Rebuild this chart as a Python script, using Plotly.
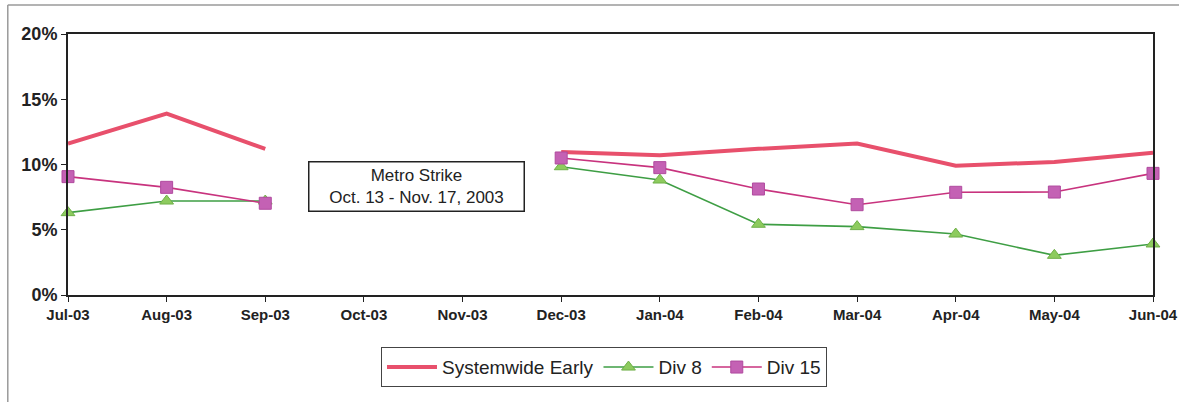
import plotly.graph_objects as go

months = ["Jul-03", "Aug-03", "Sep-03", "Oct-03", "Nov-03", "Dec-03",
          "Jan-04", "Feb-04", "Mar-04", "Apr-04", "May-04", "Jun-04"]
systemwide_early = [11.6, 13.9, 11.2, None, None, 10.96, 10.7, 11.2, 11.6, 9.9, 10.2, 10.9]
div_8 = [6.31, 7.2, 7.2, None, None, 9.83, 8.81, 5.42, 5.24, 4.67, 3.04, 3.91]
div_15 = [9.07, 8.25, 7.03, None, None, 10.5, 9.76, 8.12, 6.92, 7.87, 7.89, 9.32]
y_ticks = [0, 5, 10, 15, 20]
y_tick_text = ["0%", "5%", "10%", "15%", "20%"]
note_lines = ["Metro Strike", "Oct. 13 - Nov. 17, 2003"]

x = list(range(len(months)))
FONT = "Liberation Sans, Arial"

fig = go.Figure()
fig.add_trace(go.Scatter(
    x=x, y=systemwide_early, name="Systemwide Early", mode="lines",
    line=dict(color="#E8506C", width=4), connectgaps=False, cliponaxis=False))
fig.add_trace(go.Scatter(
    x=x, y=div_8, name="Div 8", mode="lines+markers",
    line=dict(color="#3E9E44", width=1.6),
    marker=dict(symbol="triangle-up", size=12, color="#8DCB5E",
                line=dict(color="#6FB048", width=1)),
    connectgaps=False, cliponaxis=False))
fig.add_trace(go.Scatter(
    x=x, y=div_15, name="Div 15", mode="lines+markers",
    line=dict(color="#C8337E", width=1.6),
    marker=dict(symbol="square", size=12, color="#C461B4",
                line=dict(color="#B04A9E", width=1)),
    connectgaps=False, cliponaxis=False))

fig.add_annotation(
    x=3.53, y=8.3, xref="x", yref="y",
    text="<br>".join(note_lines), showarrow=False,
    font=dict(family=FONT, size=17, color="#222"),
    bordercolor="#222", borderwidth=1.5, borderpad=3, bgcolor="white",
    width=208, height=42, align="center")

# page frame (top and left edges)
fig.add_shape(type="line", xref="paper", yref="paper",
              x0=-0.0555, x1=1.03, y0=1.111, y1=1.111,
              line=dict(color="#9A9A9A", width=1.5))
fig.add_shape(type="line", xref="paper", yref="paper",
              x0=-0.0555, x1=-0.0555, y0=1.111, y1=-0.42,
              line=dict(color="#9A9A9A", width=1.5))

fig.update_layout(
    width=1179, height=402,
    margin=dict(l=68, r=26, t=34, b=107),
    paper_bgcolor="white", plot_bgcolor="white",
    showlegend=True,
    legend=dict(orientation="h", x=0.494, xanchor="center", y=-0.2, yanchor="top",
                bordercolor="#444", borderwidth=1,
                font=dict(family=FONT, size=19, color="#222"),
                itemwidth=50, tracegroupgap=0),
    xaxis=dict(range=[0, 11], tickvals=x, ticktext=[f"<b>{m}</b>" for m in months],
               showgrid=False, zeroline=False, automargin=False,
               showline=True, linecolor="#222", linewidth=2, mirror=True,
               ticks="outside", ticklen=5, tickcolor="#222",
               tickfont=dict(family=FONT, size=15, color="#222")),
    yaxis=dict(range=[0, 20], tickvals=y_ticks, ticktext=[f"<b>{t}</b>" for t in y_tick_text],
               showgrid=False, zeroline=False, automargin=False,
               showline=True, linecolor="#222", linewidth=2, mirror=True,
               ticks="outside", ticklen=5, tickcolor="#222",
               tickfont=dict(family=FONT, size=18, color="#222")),
)

fig.write_html("out.html")
